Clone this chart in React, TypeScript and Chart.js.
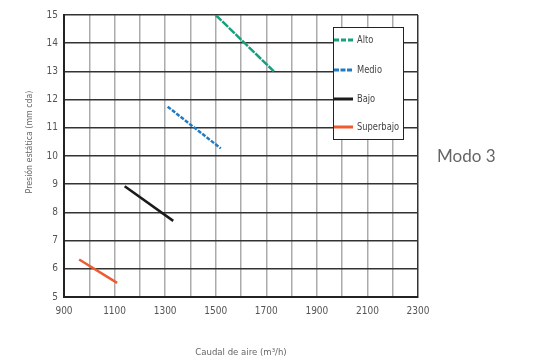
import React, { useEffect, useRef } from "react";
import { Chart, registerables } from "chart.js";

Chart.register(...registerables);

const seriesNames = ["Alto", "Medio", "Bajo", "Superbajo"];
const seriesColors = ["#16a07c", "#1f7cc4", "#1a1a1a", "#ee5b30"];
const seriesDash: number[][] = [[8, 1.2], [4, 1.5], [], []];

const altoX = [1500, 1730];
const altoY = [15, 13];
const medioX = [1310, 1520];
const medioY = [11.75, 10.27];
const bajoX = [1140, 1332];
const bajoY = [8.93, 7.7];
const superbajoX = [960, 1110];
const superbajoY = [6.33, 5.5];

const xTickLabels = ["900", "1100", "1300", "1500", "1700", "1900", "2100", "2300"];
const xTitle = "Caudal de aire (m³/h)";
const yTitle = "Presión estática (mm cda)";
const sideLabel = "Modo 3";

const FONT = "'Liberation Sans Narrow', 'DejaVu Sans Condensed', sans-serif";

const toPoints = (xs: number[], ys: number[]) => xs.map((x, i) => ({ x, y: ys[i] }));

const overlayPlugin = {
  id: "overlay",
  afterDraw(chart: any) {
    const { ctx, chartArea } = chart;
    ctx.save();
    // y title
    ctx.translate(30, chartArea.top + 127);
    ctx.rotate(-Math.PI / 2);
    ctx.scale(0.92, 1);
    ctx.font = `9.5px ${FONT}`;
    ctx.fillStyle = "#666";
    ctx.textAlign = "center";
    ctx.textBaseline = "middle";
    ctx.fillText(yTitle, 0, 0);
    ctx.restore();

    // legend
    ctx.save();
    const bx = chartArea.right - 85;
    const by = chartArea.top + 12;
    const bw = 70;
    const bh = 112;
    ctx.fillStyle = "#fff";
    ctx.fillRect(bx, by, bw, bh);
    ctx.strokeStyle = "#222";
    ctx.lineWidth = 1;
    ctx.strokeRect(bx + 0.5, by + 0.5, bw, bh);
    const rows = [13, 43, 72, 100];
    seriesNames.forEach((name, i) => {
      const y = by + rows[i];
      ctx.beginPath();
      ctx.strokeStyle = seriesColors[i];
      ctx.lineWidth = 3;
      ctx.setLineDash(i === 0 ? [5, 2] : i === 1 ? [5, 1.5] : []);
      ctx.moveTo(bx + 1, y);
      ctx.lineTo(bx + 20, y);
      ctx.stroke();
      ctx.setLineDash([]);
      ctx.save();
      ctx.translate(bx + 24, y);
      ctx.scale(0.84, 1);
      ctx.font = `11px ${FONT}`;
      ctx.fillStyle = "#444";
      ctx.textAlign = "left";
      ctx.textBaseline = "middle";
      ctx.fillText(name, 0, 0);
      ctx.restore();
    });
    ctx.restore();
  },
};

export default function App() {
  const ref = useRef<HTMLCanvasElement>(null);
  useEffect(() => {
    if (!ref.current) return;
    const data = [
      toPoints(altoX, altoY),
      toPoints(medioX, medioY),
      toPoints(bajoX, bajoY),
      toPoints(superbajoX, superbajoY),
    ];
    const chart = new Chart(ref.current, {
      type: "line",
      data: {
        datasets: seriesNames.map((name, i) => ({
          label: name,
          data: data[i],
          borderColor: seriesColors[i],
          backgroundColor: seriesColors[i],
          borderWidth: 2.5,
          borderDash: seriesDash[i],
          pointRadius: 0,
          fill: false,
          tension: 0,
        })),
      },
      options: {
        responsive: false,
        animation: false,
        layout: { padding: { top: 15, right: 136, left: 0, bottom: 0 } },
        plugins: { legend: { display: false }, tooltip: { enabled: false } },
        scales: {
          x: {
            type: "linear",
            min: 900,
            max: 2300,
            afterFit: (s: any) => {
              s.height = 66;
            },
            ticks: {
              stepSize: 100,
              autoSkip: false,
              maxRotation: 0,
              padding: 8,
              color: "#555",
              font: { family: FONT, size: 10 },
              callback: (v: any) => (xTickLabels.includes(String(v)) ? String(v) : ""),
            },
            grid: {
              drawTicks: false,
              color: (c: any) => (c.tick && c.tick.value === 2300 ? "#333" : "#ababab"),
              lineWidth: 1.5,
            },
            border: { color: "#222", width: 2 },
            title: {
              display: true,
              text: xTitle,
              color: "#666",
              font: { family: FONT, size: 9.5 },
              padding: { top: 0, bottom: 5 },
            },
          },
          y: {
            type: "linear",
            min: 5,
            max: 15,
            afterFit: (s: any) => {
              s.width = 64;
            },
            ticks: {
              stepSize: 1,
              padding: 6,
              color: "#555",
              font: { family: FONT, size: 10 },
            },
            grid: { drawTicks: false, color: "#333", lineWidth: 1.5 },
            border: { color: "#222", width: 2 },
          },
        },
      },
      plugins: [overlayPlugin],
    });
    return () => chart.destroy();
  }, []);
  return (
    <div style={{ position: "fixed", left: 0, top: 0, width: 554, height: 363, background: "#fff" }}>
      <canvas ref={ref} width={554} height={363} style={{ position: "absolute", left: 0, top: 0 }} />
      <div
        style={{
          position: "absolute",
          left: 437,
          top: 144,
          fontFamily: "Lato, 'Open Sans', sans-serif",
          fontSize: 17,
          color: "#666",
          lineHeight: "24px",
          whiteSpace: "nowrap",
        }}
      >
        {sideLabel}
      </div>
    </div>
  );
}
